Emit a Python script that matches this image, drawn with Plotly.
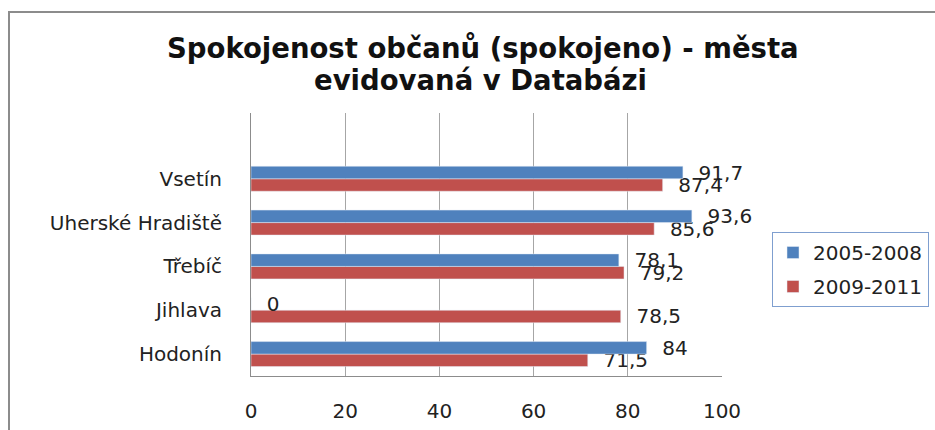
import plotly.graph_objects as go

cities = ["Hodonín", "Jihlava", "Třebíč", "Uherské Hradiště", "Vsetín"]
s1_name = "2005-2008"
s2_name = "2009-2011"
s1_vals = [84, 0, 78.1, 93.6, 91.7]
s2_vals = [71.5, 78.5, 79.2, 85.6, 87.4]
x_ticks = [0, 20, 40, 60, 80, 100]

BLUE = "#4F81BD"
RED = "#C0504D"
FONT = "DejaVu Sans"

def lab(v):
    s = ("%g" % v).replace(".", ",")
    return "\u00a0\u00a0" + s

W, H = 935, 430
L, R, T, B = 251, 722, 113, 376

fig = go.Figure()
fig.add_trace(go.Bar(
    y=cities, x=s2_vals, orientation="h", name=s2_name, legendgroup="b",
    legendrank=2,
    marker=dict(color=RED), text=[lab(v) for v in s2_vals],
    textposition="outside", cliponaxis=False, constraintext="none",
    textfont=dict(family=FONT, size=20, color="#222"),
))
fig.add_trace(go.Bar(
    y=cities, x=s1_vals, orientation="h", name=s1_name, legendgroup="a",
    legendrank=1,
    marker=dict(color=BLUE), text=[lab(v) for v in s1_vals],
    textposition="outside", cliponaxis=False, constraintext="none",
    textfont=dict(family=FONT, size=20, color="#222"),
))

def px_x(p):
    return (p - L) / (R - L)

def px_y(p):
    return (B - p) / (B - T)

title_font = dict(family=FONT, size=27.5, color="#111", weight="bold")

fig.update_layout(
    width=W, height=H,
    margin=dict(l=L, r=W - R, t=T, b=H - B, pad=0, autoexpand=False),
    paper_bgcolor="white", plot_bgcolor="white",
    barmode="group", bargap=0.43, bargroupgap=0,
    showlegend=True,
    legend=dict(
        x=px_x(772), y=px_y(232), xanchor="left", yanchor="top",
        traceorder="grouped", tracegroupgap=5,
        bordercolor="#7f9fcf", borderwidth=1,
        font=dict(family=FONT, size=20, color="#222"),
    ),
    annotations=[
        dict(text="Spokojenost občanů (spokojeno) - města", xref="paper", yref="paper",
             x=px_x(483), y=px_y(48), xanchor="center", yanchor="middle",
             showarrow=False, font=title_font),
        dict(text="evidovaná v Databázi", xref="paper", yref="paper",
             x=px_x(480), y=px_y(80), xanchor="center", yanchor="middle",
             showarrow=False, font=title_font),
    ],
    xaxis=dict(
        range=[0, 100], tickvals=x_ticks, showgrid=True, gridcolor="#a6a6a6",
        gridwidth=1, zeroline=False, showline=True, linecolor="#8c8c8c",
        linewidth=1, ticks="", ticklabelstandoff=17, automargin=False,
        tickfont=dict(family=FONT, size=20, color="#222"), fixedrange=True,
    ),
    yaxis=dict(
        type="category", categoryorder="array", categoryarray=cities,
        range=[-0.5, len(cities) + 0.5], showgrid=False, zeroline=False,
        showline=True, linecolor="#8c8c8c", linewidth=1, ticks="",
        ticklabelstandoff=24, automargin=False,
        tickfont=dict(family=FONT, size=20, color="#222"),
    ),
    shapes=[dict(
        type="rect", xref="paper", yref="paper",
        x0=px_x(9), x1=px_x(W + 10), y0=px_y(H + 10), y1=px_y(12),
        line=dict(color="#8c8c8c", width=2), fillcolor="rgba(0,0,0,0)",
        layer="below",
    )],
)

fig.write_html("out.html", config={"displayModeBar": False},
               post_script="document.body.style.margin='0';")
